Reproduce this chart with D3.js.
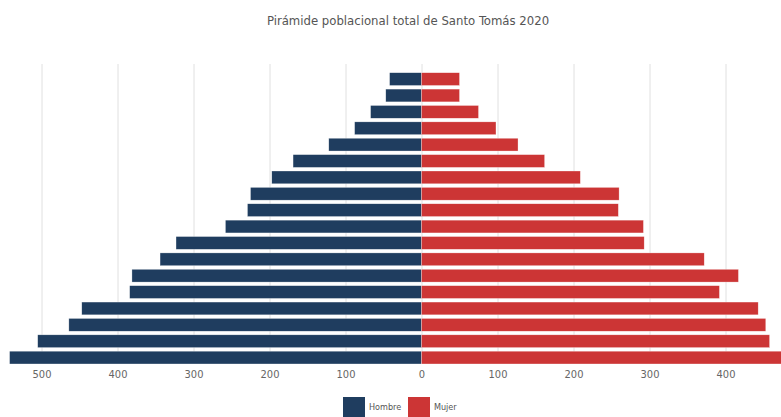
<!DOCTYPE html>
<html>
<head>
<meta charset="utf-8">
<script src="https://cdn.jsdelivr.net/npm/d3@7"></script>
<style>
    html, body { margin: 0; padding: 0; background: #fff; overflow: hidden; }
    #chart { width: 781px; height: 417px; }
    svg { display: block; font-family: "Liberation Sans Narrow", "DejaVu Sans Condensed", "Roboto", sans-serif; }
</style>
</head>
<body>
<div id="chart"></div>
<script>
// Grupos de edad, de arriba (mayor) a abajo (menor)
const ageGroups = ['85+', '80-84', '75-79', '70-74', '65-69', '60-64', '55-59', '50-54', '45-49',
    '40-44', '35-39', '30-34', '25-29', '20-24', '15-19', '10-14', '5-9', '0-4'];
const hombres = [42, 47, 67, 88, 122, 169, 197, 225, 229, 258, 323, 344, 381, 384, 447, 464, 505, 542];
const mujeres = [50, 50, 75, 98, 127, 162, 209, 260, 259, 292, 293, 372, 417, 392, 443, 453, 458, 490];
const tickValues = [-500, -400, -300, -200, -100, 0, 100, 200, 300, 400];
const seriesNames = ['Hombre', 'Mujer'];
const seriesColors = ['#1f3d5f', '#cc3535'];

const width = 781, height = 417;
const zeroX = 421.5, pxPerUnit = 0.76;

const svg = d3.select('#chart').append('svg')
    .attr('width', width)
    .attr('height', height);

const x = d3.scaleLinear()
    .domain([-550, 550])
    .range([zeroX - 550 * pxPerUnit, zeroX + 550 * pxPerUnit]);

const y = d3.scaleBand()
    .domain(ageGroups)
    .range([71.9, 364.8])
    .paddingInner(0.22)
    .paddingOuter(0.05);

// grid
svg.append('g')
    .selectAll('line')
    .data(tickValues)
    .join('line')
    .attr('x1', d => x(d) + 0.5)
    .attr('x2', d => x(d) + 0.5)
    .attr('y1', 64)
    .attr('y2', 364)
    .attr('stroke', '#e0e0e0')
    .attr('stroke-width', 1);

// bars
const rows = ageGroups.map((g, i) => ({ group: g, h: hombres[i], m: mujeres[i] }));

svg.append('g')
    .selectAll('rect')
    .data(rows)
    .join('rect')
    .attr('x', d => x(-d.h))
    .attr('y', d => y(d.group))
    .attr('width', d => x(0) - x(-d.h))
    .attr('height', y.bandwidth())
    .attr('fill', seriesColors[0])
    .attr('stroke', '#ffffff')
    .attr('stroke-opacity', 0.6)
    .attr('stroke-width', 0.5);

svg.append('g')
    .selectAll('rect')
    .data(rows)
    .join('rect')
    .attr('x', x(0))
    .attr('y', d => y(d.group))
    .attr('width', d => x(d.m) - x(0))
    .attr('height', y.bandwidth())
    .attr('fill', seriesColors[1])
    .attr('stroke', '#ffffff')
    .attr('stroke-opacity', 0.6)
    .attr('stroke-width', 0.5);

// axis
const xAxis = d3.axisBottom(x)
    .tickValues(tickValues)
    .tickSize(0)
    .tickPadding(6)
    .tickFormat(d => Math.abs(d));

const ax = svg.append('g')
    .attr('transform', 'translate(0, 364)')
    .call(xAxis);
ax.select('.domain').remove();
ax.selectAll('text')
    .attr('fill', '#666')
    .attr('font-size', '11px')
    .attr('font-family', '"Liberation Sans Narrow", "DejaVu Sans Condensed", sans-serif');

// title
svg.append('text')
    .attr('x', 408)
    .attr('y', 25)
    .attr('text-anchor', 'middle')
    .attr('fill', '#555')
    .attr('font-size', '13px')
    .text('Pirámide poblacional total de Santo Tomás 2020');

// legend
const legend = svg.append('g')
    .selectAll('g')
    .data(seriesNames)
    .join('g')
    .attr('transform', (d, i) => `translate(${343 + i * 65}, 397)`);

legend.append('rect')
    .attr('width', 22)
    .attr('height', 22)
    .attr('fill', (d, i) => seriesColors[i]);

legend.append('text')
    .attr('x', 26)
    .attr('y', 13)
    .attr('fill', '#555')
    .attr('font-size', '9px')
    .text(d => d);
</script>
</body>
</html>
